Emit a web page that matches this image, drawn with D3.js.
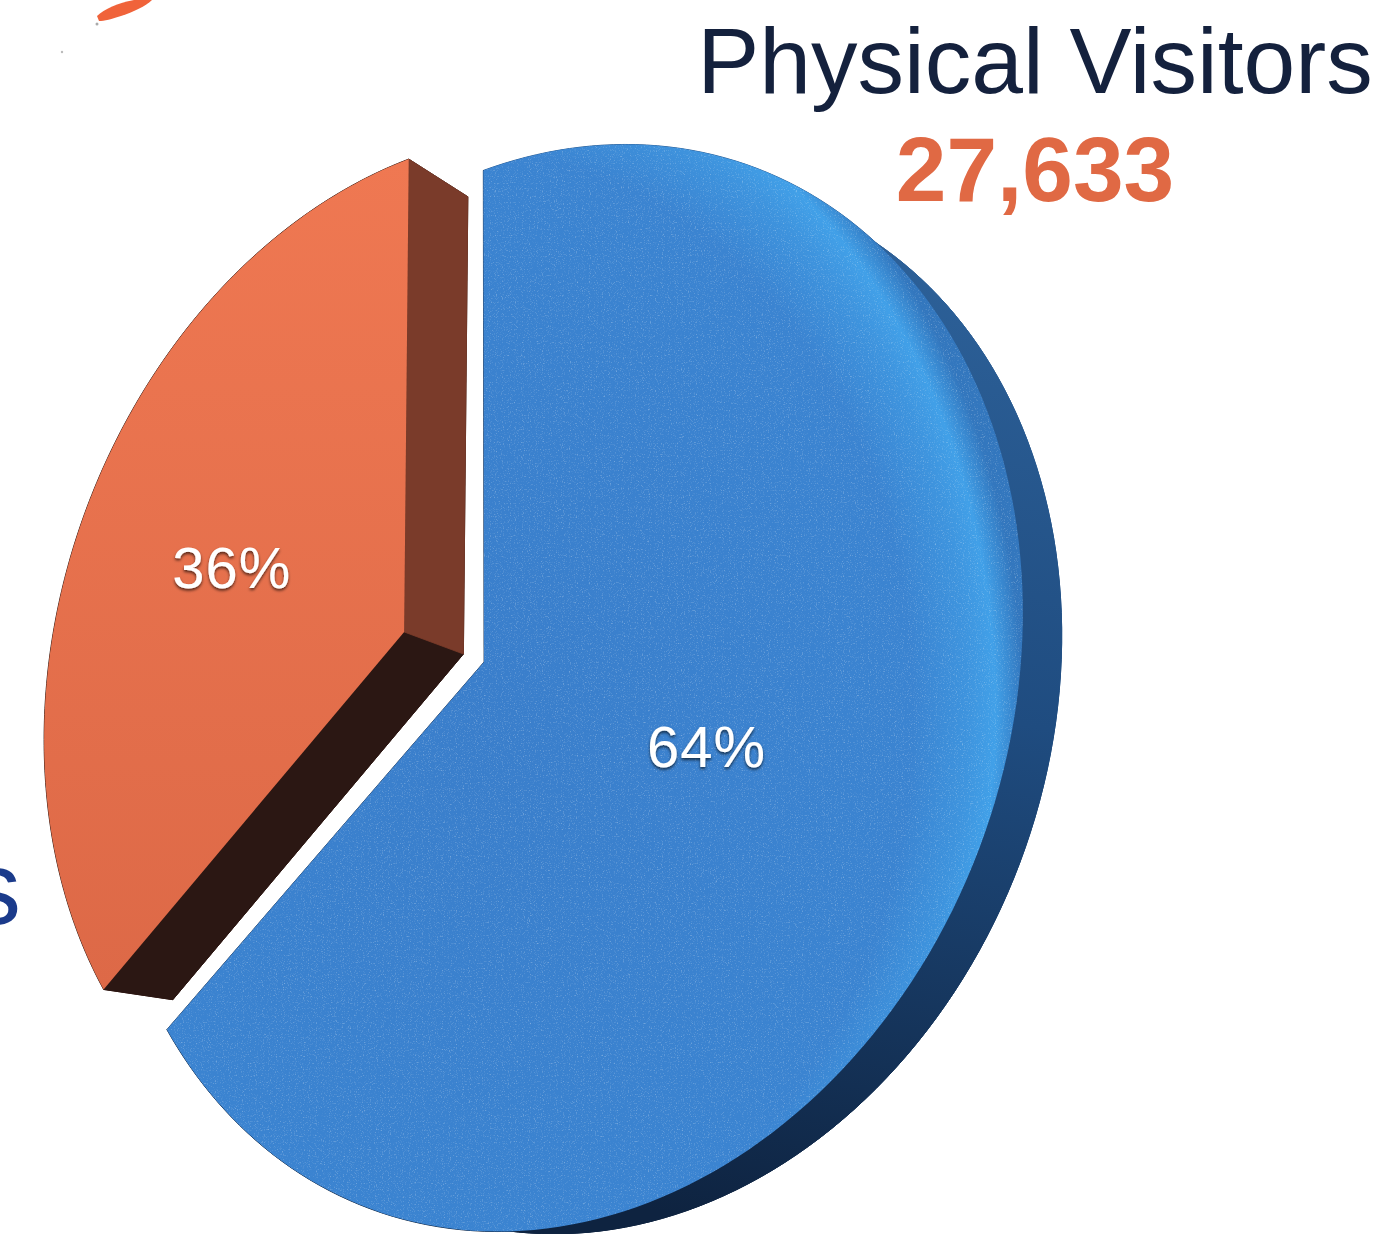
<!DOCTYPE html>
<html>
<head>
<meta charset="utf-8">
<script src="https://cdn.jsdelivr.net/npm/d3@7"></script>
<style>
  body { margin: 0; background: #fff; overflow: hidden; }
  svg { display: block; }
</style>
</head>
<body>
<div id="chart"></div>
<script>
// Slices, clockwise from 12 o'clock
var sliceNames = ["Virtual Visitors", "Physical Visitors"];
var sliceShares = [64, 36];
var sliceExplode = [0, 0.205];   // pull-out of each slice, in disc radii

// Texts
var headline = "Physical Visitors";
var headlineValue = "27,633";
var sideLabel = "Visitors";

var width = 1384, height = 1234;

// Tilted disc: ellipse of the face, where its hub lands, and a spin of the disc
var face = {cx: 562, cy: 688, rx: 447, ry: 555, tilt: 19.94, hubX: 484, hubY: 662, spin: -24.7};
// Extrusion goes towards a vanishing point
var vanish = {x: 2200, y: 1300, k: 0.033};

var sliceStyle = [
     {face: "url(#blueFace)", rim: "url(#blueRim)", cutStart: "#12294a", cutEnd: "#12294a", grain: true},
     {face: "url(#orangeFace)", rim: "#3a1d15", cutStart: "#2b1713", cutEnd: "#7a3b2a", grain: false}
];

// ---- projection: disc coords (unit circle, y down) -> screen ----
var tr = face.tilt * Math.PI / 180, ct = Math.cos(tr), st = Math.sin(tr);
var M = [[ct * face.rx, -st * face.ry], [st * face.rx, ct * face.ry]];
var hx = face.hubX - face.cx, hy = face.hubY - face.cy;
var c0 = [(ct * hx + st * hy) / face.rx, (-st * hx + ct * hy) / face.ry];
var rr = Math.hypot(c0[0], c0[1]);
var dir = [c0[0] / rr, c0[1] / rr];
var ch = 1 / Math.sqrt(1 - rr * rr), sh = rr * ch;
var sp = face.spin * Math.PI / 180, cs = Math.cos(sp), ss = Math.sin(sp);

function project(x, y) {
     var x1 = x * cs - y * ss, y1 = x * ss + y * cs;
     var s = x1 * dir[0] + y1 * dir[1];
     var tx = x1 - s * dir[0], ty = y1 - s * dir[1];
     var s2 = ch * s + sh, z = sh * s + ch;
     var qx = (s2 * dir[0] + tx) / z, qy = (s2 * dir[1] + ty) / z;
     return [face.cx + M[0][0] * qx + M[0][1] * qy, face.cy + M[1][0] * qx + M[1][1] * qy];
}
function back(p) {
     return [p[0] + (vanish.x - p[0]) * vanish.k, p[1] + (vanish.y - p[1]) * vanish.k];
}

var svg = d3.select("#chart")
     .append("svg")
     .attr("width", width)
     .attr("height", height);

var defs = svg.append("defs");

var bf = defs.append("radialGradient").attr("id", "blueFace")
     .attr("cx", 0.36).attr("cy", 0.52).attr("r", 0.64);
[[0, "#3a7ecb"], [0.8, "#3b84d1"], [0.9, "#3e94de"], [0.95, "#41a0e8"], [1, "#3377be"]].forEach(function(s) {
     bf.append("stop").attr("offset", s[0]).attr("stop-color", s[1]);
});

var br = defs.append("linearGradient").attr("id", "blueRim")
     .attr("gradientUnits", "userSpaceOnUse")
     .attr("x1", 950).attr("y1", 250).attr("x2", 750).attr("y2", 1230);
[[0, "#2d6199"], [0.45, "#1f4c80"], [1, "#0e2340"]].forEach(function(s) {
     br.append("stop").attr("offset", s[0]).attr("stop-color", s[1]);
});

var of = defs.append("linearGradient").attr("id", "orangeFace")
     .attr("x1", 0).attr("y1", 0).attr("x2", 0).attr("y2", 1);
[[0, "#ef7852"], [1, "#dd6947"]].forEach(function(s) {
     of.append("stop").attr("offset", s[0]).attr("stop-color", s[1]);
});

// grainy surface of the blue slice
var grain = defs.append("filter").attr("id", "grain")
     .attr("color-interpolation-filters", "sRGB")
     .attr("x", 0).attr("y", 0).attr("width", 1).attr("height", 1);
grain.append("feTurbulence").attr("type", "fractalNoise").attr("baseFrequency", 0.85)
     .attr("numOctaves", 2).attr("seed", 4).attr("result", "n");
grain.append("feColorMatrix").attr("in", "n").attr("type", "matrix")
     .attr("values", "0 0 0 0 1  0 0 0 0 1  0 0 0 0 1  0.9 0 0 0 -0.5").attr("result", "w");
grain.append("feComposite").attr("in", "w").attr("in2", "SourceGraphic").attr("operator", "in").attr("result", "wn");
var gm = grain.append("feMerge");
gm.append("feMergeNode").attr("in", "SourceGraphic");
gm.append("feMergeNode").attr("in", "wn");

var shadow = defs.append("filter").attr("id", "txtShadow")
     .attr("x", -0.2).attr("y", -0.3).attr("width", 1.4).attr("height", 1.6);
shadow.append("feDropShadow").attr("dx", 0).attr("dy", 2).attr("stdDeviation", 1.6)
     .attr("flood-color", "#000").attr("flood-opacity", 0.65);

// ---- slices ----
var pie = d3.pie().sort(null).value(function(d) { return d; });
var arcs = pie(sliceShares);
var line = d3.line();

var slices = arcs.map(function(a, i) {
     var mid = (a.startAngle + a.endAngle) / 2;
     var ox = sliceExplode[i] * Math.sin(mid), oy = -sliceExplode[i] * Math.cos(mid);
     var n = 160;
     var rim = d3.range(n + 1).map(function(j) {
          var ang = a.startAngle + (a.endAngle - a.startAngle) * j / n;
          return project(ox + Math.sin(ang), oy - Math.cos(ang));
     });
     var hub = project(ox, oy);
     var lr = 0.5;
     return {
          i: i, hub: hub, rim: rim,
          label: project(ox + lr * Math.sin(mid), oy - lr * Math.cos(mid)),
          text: Math.round(a.value / d3.sum(sliceShares) * 100) + "%"
     };
});

var walls = svg.append("g").attr("class", "walls");
slices.forEach(function(s) {
     var st = sliceStyle[s.i];
     var backRim = s.rim.map(back).reverse();
     walls.append("path")
          .attr("d", line([back(s.hub)].concat(s.rim.map(back))) + "Z")
          .attr("fill", st.rim).attr("stroke", st.rim).attr("stroke-width", 1);
     walls.append("path")
          .attr("d", line(s.rim.concat(backRim)) + "Z")
          .attr("fill", st.rim).attr("stroke", st.rim).attr("stroke-width", 1);
     var first = s.rim[0], last = s.rim[s.rim.length - 1];
     walls.append("path")
          .attr("d", line([s.hub, first, back(first), back(s.hub)]) + "Z")
          .attr("fill", st.cutStart).attr("stroke", st.cutStart).attr("stroke-width", 0.8);
     walls.append("path")
          .attr("d", line([last, s.hub, back(s.hub), back(last)]) + "Z")
          .attr("fill", st.cutEnd).attr("stroke", st.cutEnd).attr("stroke-width", 0.8);
});

var faces = svg.append("g").attr("class", "faces");
slices.forEach(function(s) {
     var st = sliceStyle[s.i];
     faces.append("path")
          .attr("d", line([s.hub].concat(s.rim)) + "Z")
          .attr("fill", st.face)
          .attr("filter", st.grain ? "url(#grain)" : null);
});

svg.append("g").selectAll("text")
     .data(slices)
     .enter()
     .append("text")
     .attr("x", function(d) { return d.label[0]; })
     .attr("y", function(d) { return d.label[1]; })
     .attr("dy", "0.36em")
     .attr("text-anchor", "middle")
     .attr("font-family", "Liberation Sans, Arial, Helvetica, sans-serif")
     .attr("font-size", 58)
     .attr("letter-spacing", 1)
     .attr("fill", "#fff")
     .attr("filter", "url(#txtShadow)")
     .text(function(d) { return d.text; });

// ---- titles ----
svg.append("text")
     .attr("x", 1035).attr("y", 93)
     .attr("text-anchor", "middle")
     .attr("font-family", "Liberation Sans, Arial, Helvetica, sans-serif")
     .attr("font-size", 93)
     .attr("fill", "#14213d")
     .text(headline);

svg.append("text")
     .attr("x", 1035).attr("y", 201)
     .attr("text-anchor", "middle")
     .attr("font-family", "Liberation Sans, Arial, Helvetica, sans-serif")
     .attr("font-weight", "bold")
     .attr("font-size", 91)
     .attr("fill", "#e06944")
     .text(headlineValue);

svg.append("text")
     .attr("x", 21).attr("y", 924)
     .attr("text-anchor", "end")
     .attr("font-family", "Liberation Sans, Arial, Helvetica, sans-serif")
     .attr("font-size", 104)
     .attr("fill", "#1b3b8b")
     .text(sideLabel);

// cropped brush stroke at the top left
svg.append("path")
     .attr("d", "M97,16 C104,9 118,3 134,0 L152,0 C146,6 133,12 121,16 C112,19 104,21 99,21 Z")
     .attr("fill", "#f0633a");
svg.append("circle").attr("cx", 97).attr("cy", 24).attr("r", 1.5).attr("fill", "#aaa");
svg.append("circle").attr("cx", 62).attr("cy", 52).attr("r", 1.2).attr("fill", "#bbb");
</script>
</body>
</html>
